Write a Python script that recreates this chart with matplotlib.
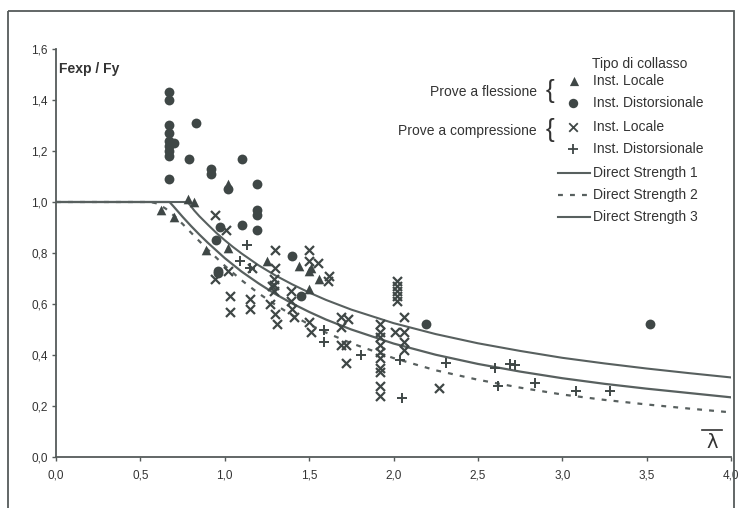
import matplotlib
matplotlib.use("Agg")
import matplotlib.pyplot as plt
from matplotlib.patches import Rectangle

plt.rcParams["font.family"] = ["Liberation Sans", "DejaVu Sans"]

# --- data ---
# prove a flessione, instabilita locale (triangoli)
fl_loc_x = [0.62, 0.70, 0.78, 0.82, 0.89, 1.02, 1.02, 1.25, 1.44, 1.50, 1.56, 1.50, 1.51]
fl_loc_y = [0.97, 0.94, 1.01, 1.00, 0.81, 1.07, 0.82, 0.77, 0.75, 0.73, 0.70, 0.66, 0.74]

# prove a flessione, instabilita distorsionale (cerchi)
fl_dist_x = [0.67, 0.67, 0.67, 0.67, 0.67, 0.67, 0.67, 0.67, 0.67, 0.70, 0.83, 0.79,
             0.92, 0.92, 1.10, 1.02, 1.19, 1.19, 1.19, 1.10, 1.19, 0.97, 0.95, 0.96,
             0.96, 1.40, 1.45, 2.19, 3.52]
fl_dist_y = [1.43, 1.40, 1.30, 1.27, 1.24, 1.22, 1.20, 1.18, 1.09, 1.23, 1.31, 1.17,
             1.13, 1.11, 1.17, 1.05, 1.07, 0.97, 0.95, 0.91, 0.89, 0.90, 0.85, 0.73,
             0.72, 0.79, 0.63, 0.52, 0.52]

# prove a compressione, instabilita locale (croci x)
co_loc_x = [0.94, 1.01, 1.30, 1.50, 1.55, 1.50, 1.62, 1.61, 1.02, 0.94, 1.16, 1.03,
            1.03, 1.15, 1.15, 1.30, 1.29, 1.29, 1.29, 1.28, 1.27, 1.30, 1.31, 1.39,
            1.39, 1.40, 1.41, 1.50, 1.51, 1.69, 1.73, 1.69, 1.69, 1.72, 1.72,
            1.92, 1.92, 1.92, 1.92, 1.92, 1.92, 1.92, 1.92, 1.92, 1.92,
            2.02, 2.02, 2.02, 2.02, 2.02, 2.06, 2.06, 2.06, 2.06, 2.01, 2.27]
co_loc_y = [0.95, 0.89, 0.81, 0.81, 0.76, 0.77, 0.71, 0.69, 0.73, 0.70, 0.74, 0.63,
            0.57, 0.62, 0.58, 0.74, 0.70, 0.675, 0.65, 0.67, 0.60, 0.56, 0.52, 0.65,
            0.61, 0.58, 0.55, 0.53, 0.49, 0.55, 0.54, 0.51, 0.44, 0.44, 0.37,
            0.52, 0.49, 0.47, 0.44, 0.41, 0.39, 0.35, 0.335, 0.28, 0.24,
            0.69, 0.67, 0.65, 0.63, 0.61, 0.55, 0.49, 0.45, 0.42, 0.49, 0.27]

# prove a compressione, instabilita distorsionale (croci +)
co_dist_x = [1.13, 1.09, 1.15, 1.59, 1.59, 1.81, 2.05, 2.04, 2.31, 2.60, 2.69, 2.72,
             2.62, 2.84, 3.08, 3.28]
co_dist_y = [0.83, 0.77, 0.74, 0.50, 0.45, 0.40, 0.23, 0.38, 0.37, 0.35, 0.365, 0.36,
             0.28, 0.29, 0.26, 0.26]

# curve Direct Strength (punti letti lungo le linee)
ds1_x = [0.0, 0.78, 0.82, 0.85, 0.90, 0.95, 1.00, 1.05, 1.10, 1.20, 1.30, 1.40, 1.50,
         1.60, 1.75, 2.00, 2.25, 2.50, 2.75, 3.00, 3.25, 3.50, 3.75, 4.00]
ds1_y = [1.0, 1.00, 0.966, 0.944, 0.911, 0.879, 0.85, 0.823, 0.798, 0.752, 0.712, 0.677,
         0.645, 0.616, 0.578, 0.525, 0.482, 0.446, 0.416, 0.389, 0.367, 0.347, 0.329, 0.312]

ds2_x = [0.0, 0.56, 0.60, 0.65, 0.70, 0.75, 0.80, 0.85, 0.90, 1.00, 1.10, 1.20, 1.30,
         1.40, 1.50, 1.60, 1.75, 2.00, 2.25, 2.50, 2.75, 3.00, 3.25, 3.50, 3.75, 4.00]
ds2_y = [1.0, 1.00, 0.994, 0.974, 0.946, 0.914, 0.88, 0.846, 0.813, 0.75, 0.693, 0.642,
         0.597, 0.556, 0.52, 0.488, 0.446, 0.388, 0.34, 0.303, 0.272, 0.245, 0.224,
         0.206, 0.19, 0.175]

ds3_x = [0.0, 0.673, 0.70, 0.75, 0.80, 0.85, 0.90, 1.00, 1.10, 1.20, 1.30, 1.40, 1.50,
         1.60, 1.75, 2.00, 2.25, 2.50, 2.75, 3.00, 3.25, 3.50, 3.75, 4.00]
ds3_y = [1.0, 1.00, 0.98, 0.942, 0.906, 0.872, 0.84, 0.78, 0.727, 0.681, 0.639, 0.602,
         0.569, 0.539, 0.50, 0.445, 0.401, 0.365, 0.335, 0.309, 0.287, 0.268, 0.251, 0.234]

x_ticks = [0.0, 0.5, 1.0, 1.5, 2.0, 2.5, 3.0, 3.5, 4.0]
y_ticks = [0.0, 0.2, 0.4, 0.6, 0.8, 1.0, 1.2, 1.4, 1.6]

dark = "#3f4746"
curve_col = "#58605f"
axis_col = "#555b5a"

W, H = 741, 508
fig = plt.figure(figsize=(W / 100, H / 100), dpi=100)
ax = fig.add_axes([56 / W, 1 - 457 / H, (731 - 56) / W, (457 - 49) / H])

# curves
ax.plot(ds1_x, ds1_y, color=curve_col, lw=1.5, zorder=2)
ax.plot(ds2_x, ds2_y, color=curve_col, lw=1.6, dashes=(2.2, 3.2), zorder=2)
ax.plot(ds3_x, ds3_y, color=curve_col, lw=1.6, zorder=2)

# markers
ax.scatter(fl_loc_x, fl_loc_y, marker="^", s=48, color=dark, lw=0, zorder=3)
ax.scatter(fl_dist_x, fl_dist_y, marker="o", s=50, color=dark, lw=0, zorder=3)
ax.scatter(co_loc_x, co_loc_y, marker="x", s=42, color=dark, linewidths=1.6, zorder=3)
ax.scatter(co_dist_x, co_dist_y, marker="+", s=48, color=dark, linewidths=1.4, zorder=3)

ax.set_xlim(0, 4.0)
ax.set_ylim(0, 1.6)
ax.set_xticks(x_ticks)
ax.set_yticks(y_ticks)
ax.set_xticklabels([f"{v:.1f}".replace(".", ",") for v in x_ticks])
ax.set_yticklabels([f"{v:.1f}".replace(".", ",") for v in y_ticks])
ax.tick_params(direction="out", length=3, width=1, color=axis_col, labelsize=8.5,
               labelcolor="#333333")
ax.tick_params(axis="x", pad=6)
ax.tick_params(axis="y", pad=3)
for side in ["top", "right"]:
    ax.spines[side].set_visible(False)
for side in ["left", "bottom"]:
    ax.spines[side].set_color(axis_col)
    ax.spines[side].set_linewidth(1.3)

ax.text(0.015, 1.52, "Fexp / Fy", fontsize=10, fontweight="bold", color="#333333",
        va="center", ha="left")

# overlay in pixel coordinates for legend, lambda label and outer frame
ov = fig.add_axes([0, 0, 1, 1], facecolor="none")
ov.set_xlim(0, W)
ov.set_ylim(H, 0)
ov.axis("off")
ov.add_patch(Rectangle((8, 11), 726, 520, fill=False, ec="#555b5a", lw=1.3))

ov.text(712, 443, "λ", fontsize=14, color="#333333", ha="center", va="center",
        family=["DejaVu Sans"])
ov.plot([702, 722], [430, 430], color="#333333", lw=1.2)

txt = dict(fontsize=10, color="#333333", va="center")
ov.text(592, 64, "Tipo di collasso", ha="left", **txt)
ov.text(537, 92, "Prove a flessione", ha="right", **txt)
ov.text(537, 131, "Prove a compressione", ha="right", **txt)
ov.text(550, 91, "{", fontsize=19, color="#333333", ha="center", va="center")
ov.text(550, 130, "{", fontsize=19, color="#333333", ha="center", va="center")

ov.scatter([574], [81], marker="^", s=44, color=dark, lw=0)
ov.text(593, 81, "Inst. Locale", ha="left", **txt)
ov.scatter([573], [103], marker="o", s=46, color=dark, lw=0)
ov.text(593, 103, "Inst. Distorsionale", ha="left", **txt)
ov.scatter([573], [127], marker="x", s=38, color=dark, linewidths=1.3)
ov.text(593, 127, "Inst. Locale", ha="left", **txt)
ov.scatter([573], [149], marker="+", s=45, color=dark, linewidths=1.3)
ov.text(593, 149, "Inst. Distorsionale", ha="left", **txt)

ov.plot([558, 590], [173, 173], color=curve_col, lw=1.5)
ov.text(593, 173, "Direct Strength 1", ha="left", **txt)
ov.plot([558, 588], [195, 195], color=curve_col, lw=1.6, dashes=(2.2, 3.2))
ov.text(593, 195, "Direct Strength 2", ha="left", **txt)
ov.plot([558, 590], [217, 217], color=curve_col, lw=1.5)
ov.text(593, 217, "Direct Strength 3", ha="left", **txt)

fig.savefig("out.png", dpi=100)
